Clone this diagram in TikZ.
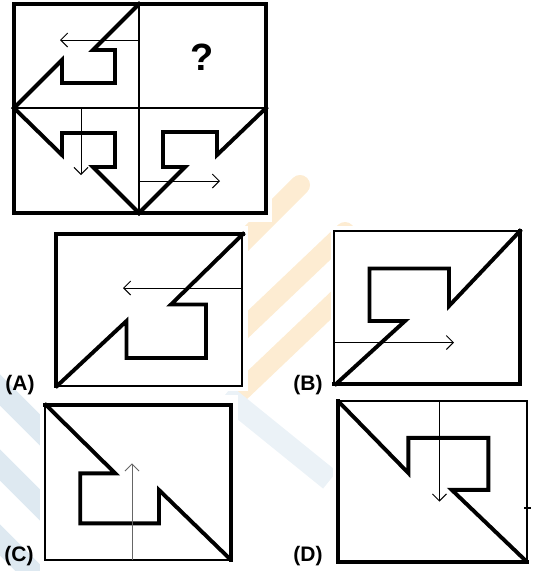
\documentclass[tikz,border=0pt]{standalone}
\usepackage{fontspec}
\setmainfont{Liberation Sans}
\usetikzlibrary{arrows.meta}
\definecolor{wmorange}{RGB}{253,236,210}
\definecolor{wmblue}{RGB}{222,233,241}
\begin{document}
\begin{tikzpicture}[x=1pt,y=-1pt,
  thickline/.style={line width=3.9pt,line join=miter,line cap=rect},
  thinline/.style={line width=1.1pt},
  pointer/.style={line width=1pt,-{Straight Barb[length=7pt,width=14pt,line width=1pt]}},
  optlabel/.style={font=\bfseries\fontsize{21}{23}\selectfont,inner sep=0pt},
  wmo/.style={line width=20pt,draw=wmorange,line cap=round},
  wmb/.style={line width=22pt,draw=wmblue,line cap=butt}]
\useasboundingbox (0,0) rectangle (534,571);
% ---------- faint watermark behind the pictures ----------
\draw[wmo] (300,185) -- (200,285);
\draw[wmo] (345,232) -- (200,370);
\draw[wmo] (345,292) -- (240,392);
\draw[wmb] (-10,380) -- (80,470);
\draw[wmb] (-10,455) -- (80,545);
\draw[wmb] (-10,530) -- (40,580);
\draw[wmb,draw=wmblue!60] (225,395) -- (330,480);
% white grounds of the five pictures
\fill[white] (0,0) rectangle (272,222);
\fill[white] (50,226) rectangle (248,391);
\fill[white] (331,226) rectangle (534,391);
\fill[white] (40,395) rectangle (238,571);
\fill[white] (333,395) rectangle (534,571);
% ---------- question figure ----------
\coordinate (qtl) at (14,4);
\coordinate (qbr) at (266,213);
\draw[thinline] (139,4) -- (139,213);
\draw[thinline] (14,108) -- (266,108);
\draw[thickline] (qtl) rectangle (qbr);
\draw[thickline] (139,4) -- (93,50) -- (115,50) -- (115,83) -- (62,83) -- (62,60) -- (14,108);
\draw[thickline] (14,108) -- (62,155) -- (62,133) -- (115,133) -- (115,167) -- (93,167) -- (139,213);
\draw[thickline] (139,213) -- (185,167) -- (163,167) -- (163,132) -- (217,132) -- (217,155) -- (266,108);
\coordinate (a1s) at (139,40); \coordinate (a1e) at (60,40);
\coordinate (a2s) at (81,108); \coordinate (a2e) at (81,175);
\coordinate (a3s) at (139,181); \coordinate (a3e) at (220,181);
\draw[pointer] (a1s) -- (a1e);
\draw[pointer] (a2s) -- (a2e);
\draw[pointer] (a3s) -- (a3e);
\node[font=\bfseries\fontsize{38}{40}\selectfont,inner sep=0pt] (qm) at (202,57) {?};
% ---------- option A ----------
\draw[thinline] (242,234) -- (242,386) -- (56,386);
\draw[thickline] (56,386) -- (56,234) -- (243,234);
\draw[thickline] (243,234) -- (171,304.5) -- (206,304.5) -- (206,358) -- (126.5,358) -- (126.5,321) -- (57,386);
\coordinate (aas) at (242,288); \coordinate (aae) at (123,288);
\draw[pointer] (aas) -- (aae);
\node[optlabel] (la) at (20,385) {(A)};
% ---------- option B ----------
\draw[thinline] (334,384) -- (334,231) -- (520,231);
\draw[thickline] (520,231) -- (520,384) -- (334,384);
\draw[thickline] (520,231) -- (449,306) -- (449,268.5) -- (369.5,268.5) -- (369.5,321) -- (405,321) -- (336,384);
\coordinate (bas) at (334,342.5); \coordinate (bae) at (454,342.5);
\draw[pointer] (bas) -- (bae);
\node[optlabel] (lb) at (308,385) {(B)};
% ---------- option C ----------
\draw[thinline] (45,405) -- (45,560) -- (231,560);
\draw[thickline] (45,405) -- (231,405) -- (231,560);
\draw[thickline] (46,405) -- (115.3,473.4) -- (80.2,473.4) -- (80.2,523.3) -- (159,523.3) -- (159,490) -- (230,559);
\coordinate (cas) at (132,560); \coordinate (cae) at (132,463.3);
\draw[pointer,draw=black!60] (cas) -- (cae);
\node[optlabel] (lc) at (19,556) {(C)};
% ---------- option D ----------
\draw[thinline] (338,401) -- (527,401) -- (527,562);
\draw[thinline] (524,508) -- (531,508);
\draw[thickline] (338,401) -- (338,562) -- (527,562);
\draw[thickline] (339,402) -- (408.3,473) -- (408.3,437.9) -- (488.4,437.9) -- (488.4,489.9) -- (451.8,489.9) -- (526,561);
\coordinate (das) at (439.4,401); \coordinate (dae) at (439.4,501.6);
\draw[pointer] (das) -- (dae);
\node[optlabel] (ld) at (308,556) {(D)};
\end{tikzpicture}
\end{document}
